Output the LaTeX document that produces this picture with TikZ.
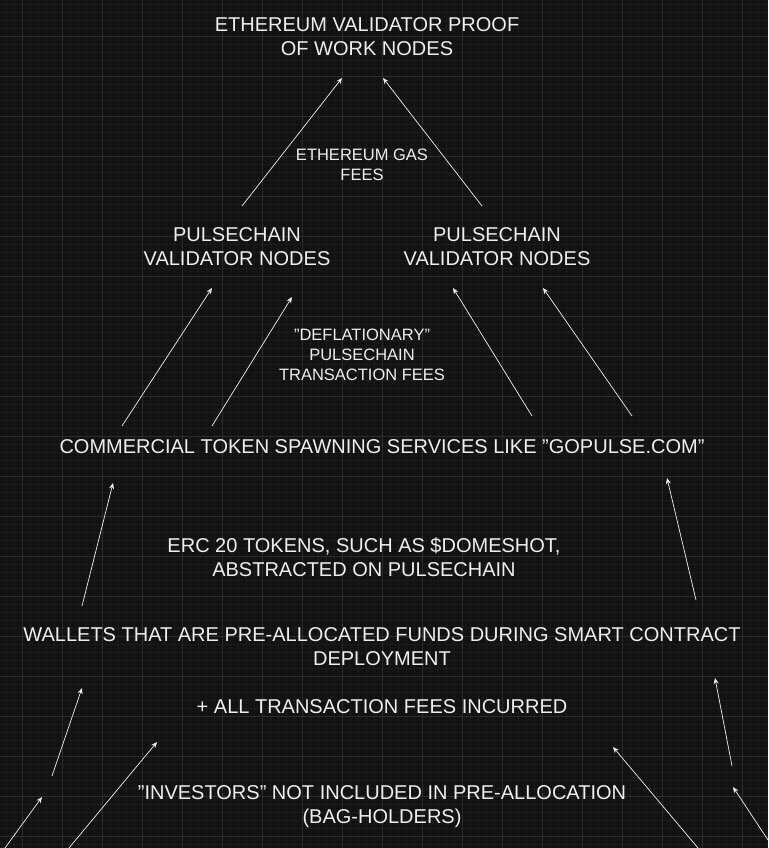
\documentclass[tikz,border=0pt]{standalone}
\usepackage{fontspec}
\setmainfont{Liberation Sans}
\usetikzlibrary{arrows.meta}
\definecolor{bg}{HTML}{121212}
\definecolor{gmin}{HTML}{1B1B1B}
\definecolor{gmaj}{HTML}{2C2C2C}
\definecolor{fg}{HTML}{EEEEEE}
\newcommand{\qq}{\symbol{34}}
\begin{document}
\begin{tikzpicture}[x=1pt,y=-1pt,
  big/.style={text=fg,font=\fontsize{20}{24}\selectfont,align=center,inner sep=0pt},
  lbl/.style={text=fg,font=\fontsize{16.5}{20}\selectfont,align=center,inner sep=0pt},
  arr/.style={draw=fg,line width=0.7pt,-{Stealth[length=6pt,width=5pt]}}]
\fill[bg] (0,0) rectangle (768,848);
\useasboundingbox (0,0) rectangle (768,848);
\foreach \x in {6,14,...,768} \draw[gmin,line width=0.5pt] (\x,0) -- (\x,848);
\foreach \y in {4,12,...,848} \draw[gmin,line width=0.5pt] (0,\y) -- (768,\y);
\foreach \x in {22,62,...,768} \draw[gmaj,line width=0.6pt] (\x,0) -- (\x,848);
\foreach \y in {36,76,...,848} \draw[gmaj,line width=0.6pt] (0,\y) -- (768,\y);

\node[big] (eth) at (367,37) {ETHEREUM VALIDATOR PROOF\\OF WORK NODES};
\node[lbl] (gas) at (362,165) {ETHEREUM GAS\\FEES};
\node[big] (pl) at (237,247) {PULSECHAIN\\VALIDATOR NODES};
\node[big] (pr) at (497,247) {PULSECHAIN\\VALIDATOR NODES};
\node[lbl] (defl) at (362,355) {\qq DEFLATIONARY\qq\\PULSECHAIN\\TRANSACTION FEES};
\node[big] (com) at (382,447) {COMMERCIAL TOKEN SPAWNING SERVICES LIKE \qq GOPULSE.COM\qq};
\node[big] (erc) at (364,557) {ERC 20 TOKENS, SUCH AS \$DOMESHOT,\\ABSTRACTED ON PULSECHAIN};
\node[big] (wal) at (382,647) {WALLETS THAT ARE PRE-ALLOCATED FUNDS DURING SMART CONTRACT\\DEPLOYMENT};
\node[big] (fees) at (382,707) {+ ALL TRANSACTION FEES INCURRED};
\node[big] (inv) at (382,807) {\qq INVESTORS\qq\ NOT INCLUDED IN PRE-ALLOCATION\\(BAG-HOLDERS)};

\foreach \n/\a/\b/\c/\d in {
 a1/242/206/342/78, a2/482/206/383/78,
 a3/122/426/212/288, a4/212/426/292/297,
 a5/532/416/453/288, a6/632/416/543/288,
 a7/82/606/113/483, a8/696/600/667/478,
 a9/52/776/82/688, a10/732/766/715/678,
 a11/5/848/42/797, a12/69/848/157/742,
 a13/698/848/613/747, a14/768/840/733/787} {
  \coordinate (\n s) at (\a,\b);
  \coordinate (\n e) at (\c,\d);
  \draw[arr] (\n s) -- (\n e);
}
\end{tikzpicture}
\end{document}
